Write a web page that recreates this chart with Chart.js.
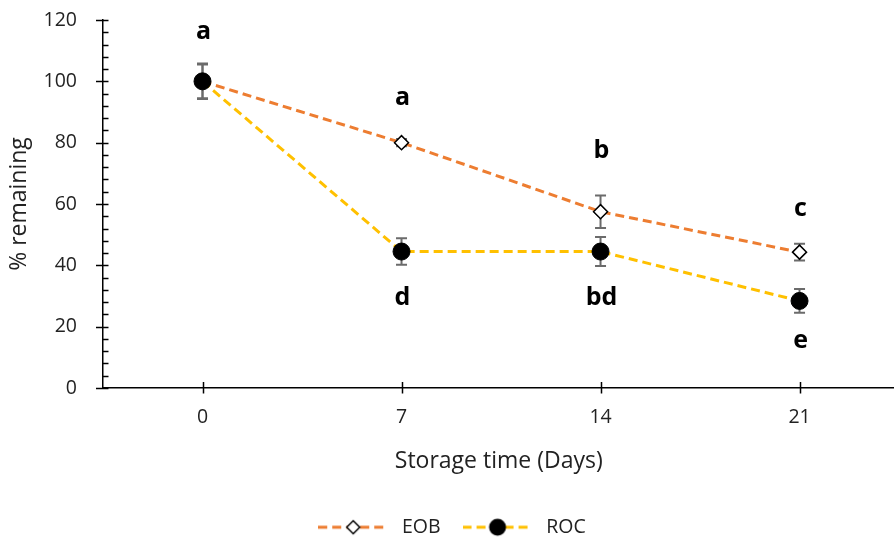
<!DOCTYPE html>
<html><head><meta charset="utf-8">
<script src="https://cdn.jsdelivr.net/npm/chart.js@4"></script>
<style>html,body{margin:0;padding:0;background:#fff;overflow:hidden;width:894px;height:537px}#wrap{width:904px;height:537px;position:relative}</style>
</head><body><div id="wrap"><canvas id="c"></canvas></div>
<script>
const categories = [0, 7, 14, 21];
const eobValues = [100, 80, 57.5, 44.3];
const rocValues = [100, 44.5, 44.5, 28.4];
const eobErrors = [5.5, 1.2, 5.3, 2.7];
const rocErrors = [5.8, 4.3, 4.7, 3.9];
const eobLetters = ['a', 'a', 'b', 'c'];
const eobLetterY = [116, 94.5, 77.3, 58.5];
const rocLetters = ['', 'd', 'bd', 'e'];
const rocLetterY = [null, 29.3, 29.3, 15.3];
const yTicks = [0, 20, 40, 60, 80, 100, 120];

const FONT = "'Open Sans', Lato, sans-serif";
const EOB_COLOR = '#ED7D31';
const ROC_COLOR = '#FFC000';
const PLOT_BOTTOM = 388;
const BOTTOM_PAD = -10;

function legendIcon(color, style) {
  const cv = document.createElement('canvas');
  cv.width = 74; cv.height = 20;
  const g = cv.getContext('2d');
  g.strokeStyle = color; g.lineWidth = 3; g.setLineDash([9, 5]);
  g.beginPath(); g.moveTo(0, 10); g.lineTo(68, 10); g.stroke();
  g.setLineDash([]);
  const cx = 35;
  if (style === 'rectRot') {
    g.fillStyle = '#fff'; g.strokeStyle = '#000'; g.lineWidth = 1.5;
    g.beginPath(); g.moveTo(cx, 3.5); g.lineTo(cx + 6.5, 10); g.lineTo(cx, 16.5); g.lineTo(cx - 6.5, 10); g.closePath();
    g.fill(); g.stroke();
  } else {
    g.fillStyle = '#000';
    g.beginPath(); g.arc(cx, 10, 8.5, 0, Math.PI * 2); g.fill();
  }
  return cv;
}

const errLetterPlugin = {
  id: 'errLetter',
  beforeDatasetsDraw(chart) {
    const ctx = chart.ctx, xs = chart.scales.x, ys = chart.scales.y;
    ctx.save();
    ctx.strokeStyle = '#6b6b6b'; ctx.lineWidth = 2;
    [[eobValues, eobErrors], [rocValues, rocErrors]].forEach(([vals, errs]) => {
      vals.forEach((v, i) => {
        const x = xs.getPixelForValue(categories[i]);
        const y1 = ys.getPixelForValue(v + errs[i]);
        const y2 = ys.getPixelForValue(v - errs[i]);
        ctx.beginPath();
        ctx.moveTo(x, y1); ctx.lineTo(x, y2);
        ctx.moveTo(x - 5.5, y1); ctx.lineTo(x + 5.5, y1);
        ctx.moveTo(x - 5.5, y2); ctx.lineTo(x + 5.5, y2);
        ctx.stroke();
      });
    });
    ctx.restore();
  },
  afterDraw(chart) {
    const ctx = chart.ctx, xs = chart.scales.x, ys = chart.scales.y;
    ctx.save();
    ctx.strokeStyle = '#000'; ctx.lineWidth = 1.5;
    const ax = xs.left, ay = ys.bottom;
    for (let v = 0; v <= 120; v += 4) {
      const y = Math.round(ys.getPixelForValue(v)) + 0.5;
      const major = yTicks.includes(v);
      ctx.beginPath();
      ctx.moveTo(major ? ax - 7 : ax, y); ctx.lineTo(ax + 5.5, y);
      ctx.stroke();
    }
    categories.forEach(c => {
      const x = Math.round(xs.getPixelForValue(c)) + 0.5;
      ctx.beginPath(); ctx.moveTo(x, ay - 6); ctx.lineTo(x, ay + 5.5); ctx.stroke();
    });
    ctx.fillStyle = '#000';
    ctx.font = "bold 25px " + FONT;
    ctx.textAlign = 'center'; ctx.textBaseline = 'middle';
    [[eobLetters, eobLetterY], [rocLetters, rocLetterY]].forEach(([ls, ly]) => {
      ls.forEach((t, i) => {
        if (!t) return;
        ctx.fillText(t, xs.getPixelForValue(categories[i]) + 1, ys.getPixelForValue(ly[i]));
      });
    });
    ctx.restore();
  }
};

new Chart(document.getElementById('c'), {
  type: 'line',
  data: {
    datasets: [
      {
        label: 'EOB',
        data: categories.map((c, i) => ({x: c, y: eobValues[i]})),
        borderColor: EOB_COLOR, borderWidth: 3, borderDash: [9, 5],
        pointStyle: 'rectRot', pointRadius: 7, pointBackgroundColor: '#fff',
        pointBorderColor: '#000', pointBorderWidth: 1.5, order: 2, tension: 0
      },
      {
        label: 'ROC',
        data: categories.map((c, i) => ({x: c, y: rocValues[i]})),
        borderColor: ROC_COLOR, borderWidth: 3, borderDash: [9, 5],
        pointStyle: 'circle', pointRadius: 8.5, pointBackgroundColor: '#000',
        pointBorderColor: '#000', pointBorderWidth: 1, order: 1, tension: 0
      }
    ]
  },
  options: {
    responsive: true, maintainAspectRatio: false, animation: false,
    layout: {padding: {top: 20, left: 0, right: 0, bottom: BOTTOM_PAD}},
    plugins: {
      tooltip: {enabled: false},
      legend: {
        position: 'bottom',
        labels: {
          usePointStyle: true, pointStyleWidth: 74, boxHeight: 16, padding: 22,
          color: '#222', font: {family: FONT, size: 19.5},
          sort: (a, b) => a.datasetIndex - b.datasetIndex,
          generateLabels(chart) {
            return chart.data.datasets.map((d, i) => ({
              text: d.label, datasetIndex: i, hidden: false,
              pointStyle: legendIcon(d.borderColor, d.pointStyle),
              fillStyle: 'transparent', strokeStyle: 'transparent', lineWidth: 0,
              fontColor: '#222'
            }));
          }
        }
      }
    },
    scales: {
      x: {
        type: 'linear', min: -3.5, max: 24.34,
        afterBuildTicks(s) { s.ticks = categories.map(v => ({value: v})); },
        afterFit(s) {
          const lh = s.chart.legend ? s.chart.legend.height : 0;
          s.height = s.chart.height - BOTTOM_PAD - PLOT_BOTTOM - lh;
          s.paddingLeft = 0; s.paddingRight = 0;
        },
        grid: {display: false, drawTicks: false},
        border: {display: true, color: '#000', width: 1.5},
        ticks: {color: '#222', font: {family: FONT, size: 19.5}, padding: 18, autoSkip: false, maxRotation: 0},
        title: {display: true, text: 'Storage time (Days)', color: '#222', font: {family: FONT, size: 23}, padding: {top: 6, bottom: 20}}
      },
      y: {
        min: 0, max: 120,
        afterBuildTicks(s) { s.ticks = yTicks.map(v => ({value: v})); },
        afterFit(s) { s.width = 103; s.paddingTop = 0; s.paddingBottom = 0; },
        grid: {display: false, drawTicks: false},
        border: {display: true, color: '#000', width: 1.5},
        ticks: {color: '#222', font: {family: FONT, size: 19.5}, padding: 26},
        title: {display: true, text: '% remaining', color: '#222', font: {family: FONT, size: 23}, padding: {top: 6, bottom: 0}}
      }
    }
  },
  plugins: [errLetterPlugin]
});
</script></body></html>
